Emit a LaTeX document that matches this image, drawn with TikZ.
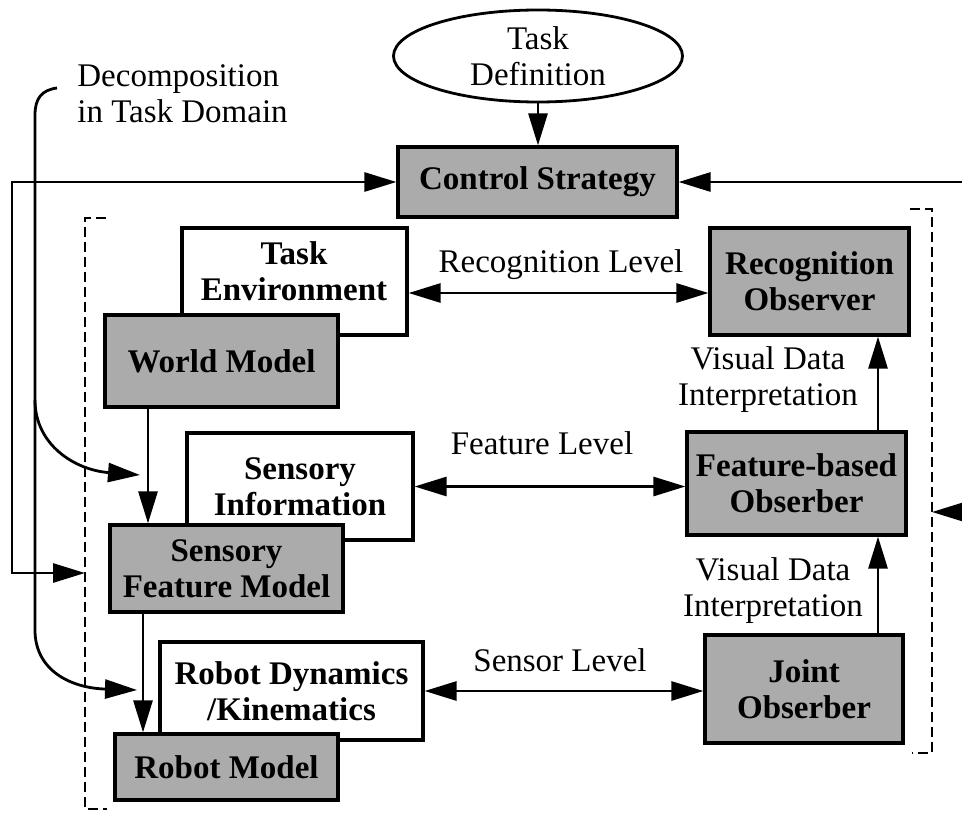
\documentclass[tikz,border=0pt]{standalone}
\usepackage{fontspec}
\setmainfont{Liberation Serif}
\usetikzlibrary{shapes.geometric,arrows.meta,calc}
\begin{document}
\begin{tikzpicture}[x=0.5pt,y=-0.5pt,
  every node/.style={font=\fontsize{16.5}{18}\selectfont},
  >={Triangle[length=16pt,width=9.5pt]},
  sz/.style 2 args={minimum width=#1*0.5pt, minimum height=#2*0.5pt},
  graybox/.style={draw, line width=1.6pt, fill=black!33, align=center, inner sep=0pt,
    font=\fontsize{16.5}{18}\selectfont\bfseries},
  whitebox/.style={draw, line width=1.6pt, fill=white, align=center, inner sep=0pt,
    font=\fontsize{16.5}{18}\selectfont\bfseries},
  btext/.style={align=center, inner sep=0pt, font=\fontsize{16.5}{18}\selectfont\bfseries},
  lbl/.style={align=center, inner sep=0pt},
  conn/.style={line width=1.4pt},
  dashbr/.style={line width=1.3pt, dash pattern=on 5pt off 2.5pt}]
\useasboundingbox (0,0) rectangle (962,813);

% top
\node[ellipse, draw, line width=1.4pt, sz={289}{92}, lbl] (taskdef) at (538,56) {Task\\Definition};
\node[graybox, sz={279}{70}] (control) at (537.5,182) {Control Strategy};

% left column
\node[whitebox, sz={225}{107}] (taskenv) at (294.5,281.5) {};
\node[btext] (taskenvt) at (294,271) {Task\\Environment};
\node[graybox, sz={233}{92}] (world) at (221.5,361) {World Model};
\node[whitebox, sz={226}{107}] (sensinfo) at (300,486.5) {Sensory\\Information};
\node[graybox, sz={233}{87}] (sensfeat) at (226.5,568.5) {Sensory\\Feature Model};
\node[whitebox, sz={263}{98}] (robdyn) at (291.5,691) {Robot Dynamics\\/Kinematics};
\node[graybox, sz={223}{66}] (robmodel) at (226.5,767) {Robot Model};

% right column
\node[graybox, sz={199}{107}] (recobs) at (809.5,281.5) {Recognition\\Observer};
\node[graybox, sz={219}{103}] (featobs) at (796.5,483.5) {Feature-based\\Obserber};
\node[graybox, sz={198}{108}] (jointobs) at (804,689) {Joint\\Obserber};

% labels
\node[lbl, anchor=west, align=left] (decomp) at (77,94) {Decomposition\\in Task Domain};
\node[lbl] (reclev) at (561,265) {Recognition Level};
\node[lbl] (featlev) at (542,443) {Feature Level};
\node[lbl] (senslev) at (560,660) {Sensor Level};
\node[lbl] (vdi1) at (768,380) {Visual Data\\Interpretation};
\node[lbl] (vdi2) at (773,591) {Visual Data\\Interpretation};

% dashed brackets
\draw[dashbr] (106,218) -- (85,218) -- (85,809) -- (107,809);
\draw[dashbr] (910,209) -- (932,209) -- (932,753) -- (912,753);

% helper coordinates
\coordinate (xL) at (12,0);
\coordinate (dashLpt) at (85,573);
\coordinate (rEdge1) at (962,182);
\coordinate (rEdge2) at (962,512);
\coordinate (dashRpt) at (932,512);
\coordinate (xV) at (878,0);
\coordinate (xW) at (148,0);
\coordinate (xS) at (143,0);
\coordinate (dstart) at (57,88);
\coordinate (dbranch) at (35,400);
\coordinate (dtip1) at (140,475);
\coordinate (dtip2) at (137,690);

% connectors
\draw[conn,->] (taskdef.south) -- (taskdef.south |- control.north);
\draw[conn,<->] (dashLpt) -- (xL |- dashLpt) -- (xL |- control.west) -- (control.west);
\draw[conn,->] (rEdge1) -- (control.east);
\draw[conn,->] (rEdge2) -- (dashRpt);

\draw[conn,<->] ($(taskenv.east)+(0,11.5)$) -- ($(recobs.west)+(0,11.5)$);
\draw[conn,<->] (sensinfo.east) -- (sensinfo.east -| featobs.west);
\draw[conn,<->] (robdyn.east) -- (robdyn.east -| jointobs.west);

\draw[conn,->] (xV |- featobs.north) -- (xV |- recobs.south);
\draw[conn,->] (xV |- jointobs.north) -- (xV |- featobs.south);

\draw[conn,->] (xW |- world.south) -- (xW |- sensfeat.north);
\draw[conn,->] (xS |- sensfeat.south) -- (xS |- robmodel.north);

\draw[conn,->] (dstart) .. controls (42,90) and (35,98) .. (35,115) -- (35,630)
   .. controls (35,670) and (70,688) .. (dtip2);
\draw[conn,->] (dbranch) .. controls (35,445) and (75,470) .. (dtip1);
\end{tikzpicture}
\end{document}
